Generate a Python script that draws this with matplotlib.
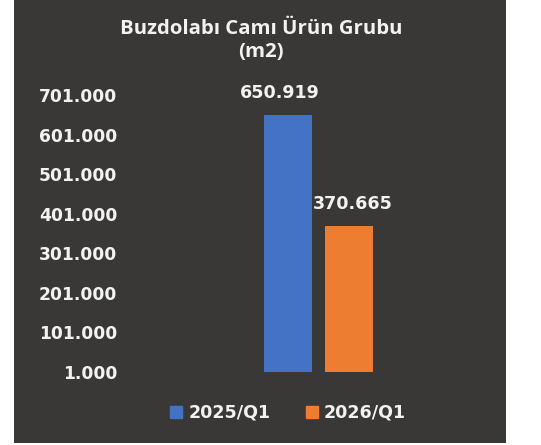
import matplotlib
matplotlib.use('Agg')
import matplotlib.pyplot as plt
import matplotlib.patches as mpatches

series = ['2025/Q1', '2026/Q1']
values = [650919, 370665]
labels = ['650.919', '370.665']
colors = ['#4472C4', '#ED7D31']
yticks = [1000, 101000, 201000, 301000, 401000, 501000, 601000, 701000]
ytick_labels = ['1.000', '101.000', '201.000', '301.000', '401.000', '501.000', '601.000', '701.000']

BG = '#3A3837'
TXT = '#F2F2F2'

W, H = 541, 445
fig = plt.figure(figsize=(W / 100, H / 100), dpi=100)
fig.patch.set_facecolor('white')
fig.add_artist(mpatches.Rectangle((14 / W, 2 / H), 492 / W, 443 / H,
                                  transform=fig.transFigure, facecolor=BG,
                                  edgecolor='none', zorder=0))

ax = fig.add_axes([130 / W, (H - 372) / H, 376 / W, 277 / H])
ax.set_facecolor('none')

# bar centres at 0 and 1, one unit = 61 px
xpos = [0, 1]
ax.bar(xpos, values, width=48 / 61, bottom=0, color=colors, zorder=2)
ax.set_xlim((130 - 288) / 61, (506 - 288) / 61)
ax.set_ylim(1000, 701000)

label_dx = [-6, 2.5]
for x, v, lab, dx in zip(xpos, values, labels, label_dx):
    ax.annotate(lab, (x, v), xytext=(dx, 9), textcoords='offset points',
                ha='center', va='bottom', color=TXT, fontsize=12.6,
                fontweight='bold', family='DejaVu Sans')

ax.set_yticks(yticks)
ax.set_yticklabels(ytick_labels)
ax.set_xticks([])
ax.tick_params(axis='y', length=0, pad=9, labelcolor=TXT, labelsize=12.3)
for t in ax.get_yticklabels():
    t.set_fontweight('bold')
for s in ax.spines.values():
    s.set_visible(False)

fig.text(261 / W, (H - 40) / H, 'Buzdolabı Camı Ürün Grubu\n(m2)', ha='center',
         va='center', color=TXT, fontsize=14.7, fontweight='bold',
         family='Open Sans', linespacing=1.2)

handles = [mpatches.Patch(color=c) for c in colors]
fig.legend(handles, series, loc='center', bbox_to_anchor=(288 / W, (H - 413) / H),
           ncol=2, frameon=False, labelcolor=TXT, handlelength=0.7,
           handleheight=0.7, handletextpad=0.35, columnspacing=2.0,
           prop={'weight': 'bold', 'size': 12.6})

fig.savefig('out.png', dpi=100, facecolor=fig.get_facecolor())
